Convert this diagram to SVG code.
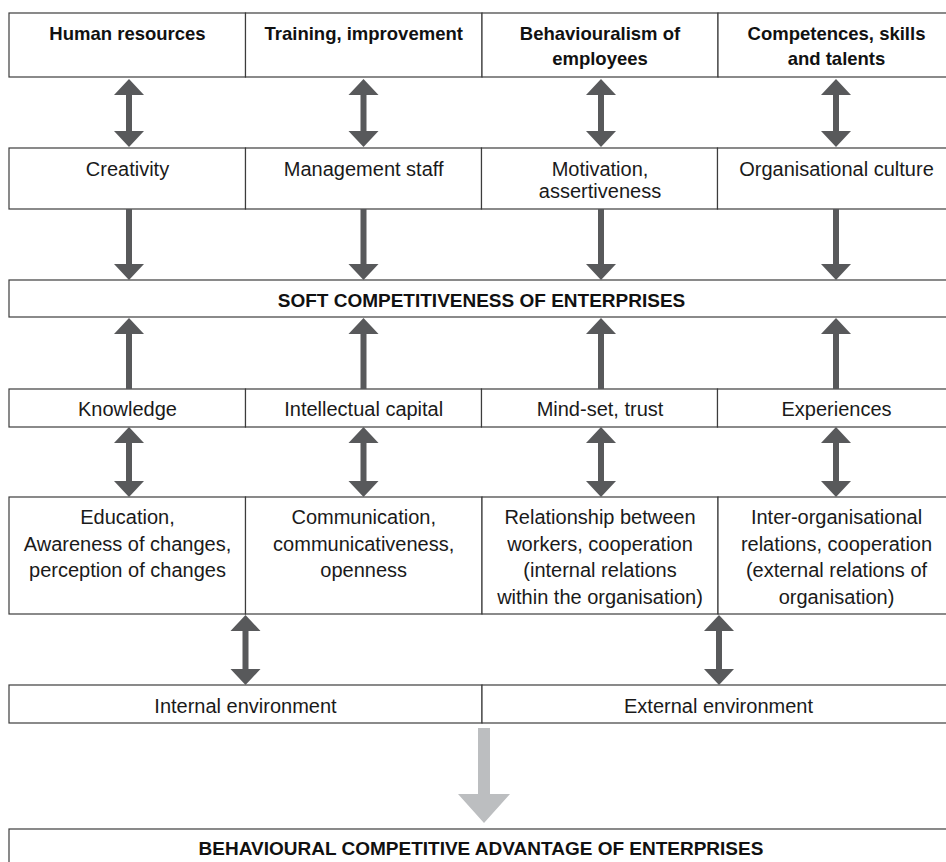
<svg xmlns="http://www.w3.org/2000/svg" width="946" height="862" viewBox="0 0 946 862">
<style>
  .bx { fill: #ffffff; stroke: #3c3c3c; stroke-width: 1.2; }
  .t { font-family: "Liberation Sans", Arial, sans-serif; font-size: 20px; fill: #1a1a1a; text-anchor: middle; }
  .b { font-family: "Liberation Sans", Arial, sans-serif; font-size: 18.5px; font-weight: bold; fill: #111111; text-anchor: middle; }
  .bb { font-family: "Liberation Sans", Arial, sans-serif; font-size: 19px; font-weight: bold; fill: #111111; text-anchor: middle; }
  .ar { fill: #58595b; }
  .ag { fill: #bcbec0; }
</style>
<defs>
  <path id="dbl1" d="M0,79 L15,95 L3,95 L3,131 L15,131 L0,147 L-15,131 L-3,131 L-3,95 L-15,95 Z"/>
  <path id="down" d="M-3,209 L3,209 L3,264 L15,264 L0,280 L-15,264 L-3,264 Z"/>
  <path id="up" d="M0,318 L15,334 L3,334 L3,389 L-3,389 L-3,334 L-15,334 Z"/>
  <path id="dbl2" d="M0,427 L15,443 L3,443 L3,481 L15,481 L0,497 L-15,481 L-3,481 L-3,443 L-15,443 Z"/>
  <path id="dbl3" d="M0,615 L15,631 L3,631 L3,669 L15,669 L0,685 L-15,669 L-3,669 L-3,631 L-15,631 Z"/>
</defs>
<rect width="946" height="862" fill="#ffffff"/>

<!-- Row 1 -->
<g id="n-human-resources"><rect class="bx" x="9" y="13" width="236.5" height="64"/><text class="b" x="127.5" y="40">Human resources</text></g>
<g id="n-training"><rect class="bx" x="245.5" y="13" width="236.5" height="64"/><text class="b" x="363.7" y="40">Training, improvement</text></g>
<g id="n-behaviouralism"><rect class="bx" x="482" y="13" width="236" height="64"/><text class="b" x="600" y="40">Behaviouralism of</text><text class="b" x="600" y="64.5">employees</text></g>
<g id="n-competences"><rect class="bx" x="718" y="13" width="237" height="64"/><text class="b" x="836.5" y="40">Competences, skills</text><text class="b" x="836.5" y="64.5">and talents</text></g>

<!-- Row 2 -->
<g id="n-creativity"><rect class="bx" x="9" y="148" width="236.5" height="61"/><text class="t" x="127.5" y="176">Creativity</text></g>
<g id="n-management"><rect class="bx" x="245.5" y="148" width="236" height="61"/><text class="t" x="363.7" y="176">Management staff</text></g>
<g id="n-motivation"><rect class="bx" x="481.5" y="148" width="236" height="61"/><text class="t" x="600" y="176">Motivation,</text><text class="t" x="600" y="198.3">assertiveness</text></g>
<g id="n-culture"><rect class="bx" x="717.5" y="148" width="237.5" height="61"/><text class="t" x="836.5" y="176">Organisational culture</text></g>

<!-- Soft competitiveness -->
<g id="n-soft"><rect class="bx" x="9" y="280" width="946" height="37"/><text class="bb" x="481.5" y="306.5">SOFT COMPETITIVENESS OF ENTERPRISES</text></g>

<!-- Row 4 -->
<g id="n-knowledge"><rect class="bx" x="9" y="389" width="236.5" height="38"/><text class="t" x="127.5" y="416">Knowledge</text></g>
<g id="n-intellectual"><rect class="bx" x="245.5" y="389" width="236" height="38"/><text class="t" x="363.7" y="416">Intellectual capital</text></g>
<g id="n-mindset"><rect class="bx" x="481.5" y="389" width="236" height="38"/><text class="t" x="600" y="416">Mind-set, trust</text></g>
<g id="n-experiences"><rect class="bx" x="717.5" y="389" width="237.5" height="38"/><text class="t" x="836.5" y="416">Experiences</text></g>

<!-- Row 5 -->
<g id="n-education"><rect class="bx" x="9" y="497" width="236.5" height="117"/><text class="t" x="127.5" y="524">Education,</text><text class="t" x="127.5" y="550.5">Awareness of changes,</text><text class="t" x="127.5" y="577">perception of changes</text></g>
<g id="n-communication"><rect class="bx" x="245.5" y="497" width="236.5" height="117"/><text class="t" x="363.7" y="524">Communication,</text><text class="t" x="363.7" y="550.5">communicativeness,</text><text class="t" x="363.7" y="577">openness</text></g>
<g id="n-relationship"><rect class="bx" x="482" y="497" width="236" height="117"/><text class="t" x="600" y="524">Relationship between</text><text class="t" x="600" y="550.5">workers, cooperation</text><text class="t" x="600" y="577">(internal relations</text><text class="t" x="600" y="603.5">within the organisation)</text></g>
<g id="n-interorg"><rect class="bx" x="718" y="497" width="237" height="117"/><text class="t" x="836.5" y="524">Inter-organisational</text><text class="t" x="836.5" y="550.5">relations, cooperation</text><text class="t" x="836.5" y="577">(external relations of</text><text class="t" x="836.5" y="603.5">organisation)</text></g>

<!-- Row 6 -->
<g id="n-internal"><rect class="bx" x="9" y="685" width="473" height="38"/><text class="t" x="245.5" y="713">Internal environment</text></g>
<g id="n-external"><rect class="bx" x="482" y="685" width="473" height="38"/><text class="t" x="718.5" y="713">External environment</text></g>

<!-- Bottom -->
<g id="n-behavioural-advantage"><rect class="bx" x="9" y="829" width="946" height="50"/><text class="bb" x="481" y="855">BEHAVIOURAL COMPETITIVE ADVANTAGE OF ENTERPRISES</text></g>

<!-- Connectors -->
<g id="connectors">
  <use href="#dbl1" class="ar" transform="translate(129,0)"/>
  <use href="#dbl1" class="ar" transform="translate(363.5,0)"/>
  <use href="#dbl1" class="ar" transform="translate(601,0)"/>
  <use href="#dbl1" class="ar" transform="translate(836,0)"/>
  <use href="#down" class="ar" transform="translate(129,0)"/>
  <use href="#down" class="ar" transform="translate(363.5,0)"/>
  <use href="#down" class="ar" transform="translate(601,0)"/>
  <use href="#down" class="ar" transform="translate(836,0)"/>
  <use href="#up" class="ar" transform="translate(129,0)"/>
  <use href="#up" class="ar" transform="translate(363.5,0)"/>
  <use href="#up" class="ar" transform="translate(601,0)"/>
  <use href="#up" class="ar" transform="translate(836,0)"/>
  <use href="#dbl2" class="ar" transform="translate(129,0)"/>
  <use href="#dbl2" class="ar" transform="translate(363.5,0)"/>
  <use href="#dbl2" class="ar" transform="translate(601,0)"/>
  <use href="#dbl2" class="ar" transform="translate(836,0)"/>
  <use href="#dbl3" class="ar" transform="translate(245.5,0)"/>
  <use href="#dbl3" class="ar" transform="translate(719,0)"/>
  <path class="ag" d="M478,728 L490,728 L490,794 L510,794 L484,823 L458,794 L478,794 Z"/>
</g>
</svg>
